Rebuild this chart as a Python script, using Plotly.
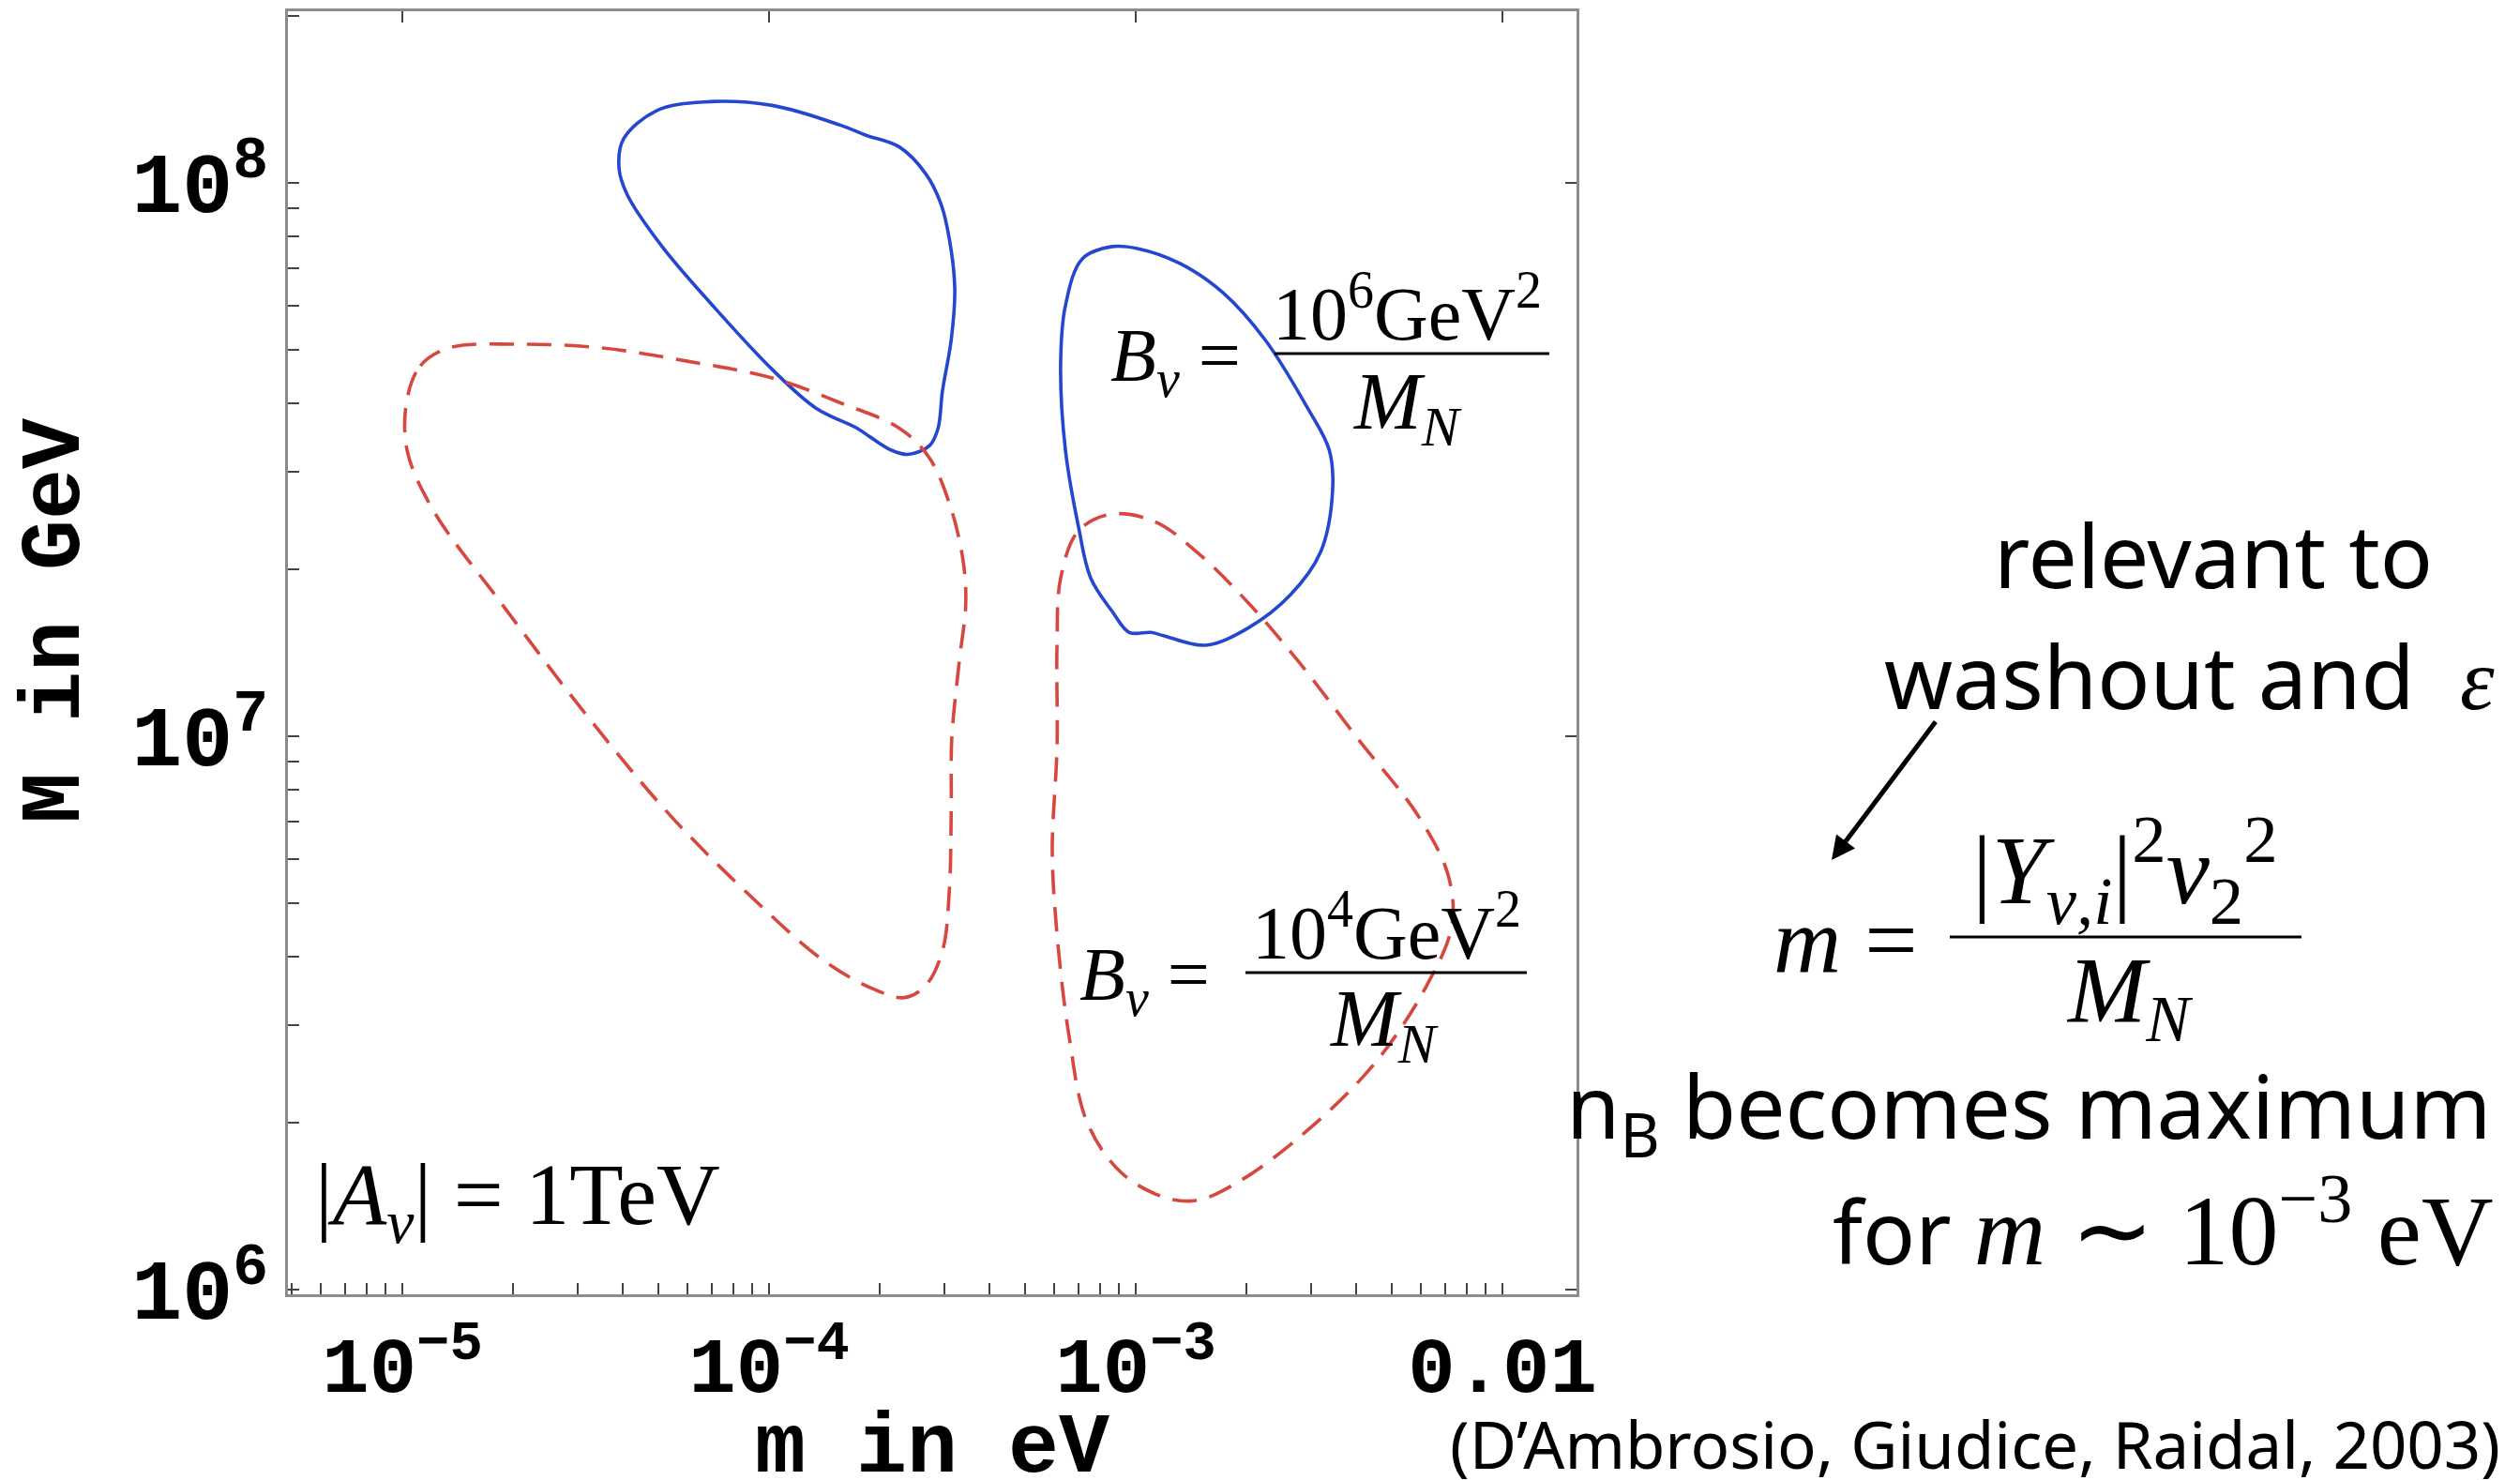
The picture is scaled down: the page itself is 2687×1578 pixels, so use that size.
import math
import plotly.graph_objects as go

# ---------------- data (m in eV, M in GeV) ----------------
blue1_m = [6.66e-5, 1.02e-4, 1.57e-4, 1.83e-4, 2.27e-4, 2.67e-4, 2.94e-4, 3.10e-4, 3.21e-4,
           3.14e-4, 2.97e-4, 2.89e-4, 2.74e-4, 2.39e-4, 2.15e-4, 1.89e-4, 1.74e-4, 1.34e-4,
           1.02e-4, 7.02e-5, 5.11e-5, 4.11e-5, 3.90e-5, 4.01e-5, 4.93e-5, 6.66e-5]
blue1_M = [1.40e8, 1.38e8, 1.27e8, 1.22e8, 1.16e8, 1.04e8, 9.18e7, 7.94e7, 6.43e7,
           5.21e7, 4.20e7, 3.60e7, 3.35e7, 3.23e7, 3.29e7, 3.47e7, 3.60e7, 3.92e7,
           4.60e7, 6.00e7, 7.67e7, 9.50e7, 1.06e8, 1.20e8, 1.35e8, 1.40e8]

red1_m = [1.03e-5, 1.12e-5, 1.34e-5, 2.06e-5, 3.51e-5, 5.99e-5, 1.02e-4, 1.57e-4, 2.27e-4,
          2.74e-4, 3.14e-4, 3.38e-4, 3.44e-4, 3.30e-4, 3.15e-4, 3.14e-4, 3.10e-4, 2.97e-4,
          2.67e-4, 2.34e-4, 1.93e-4, 1.41e-4, 9.16e-5, 5.39e-5, 3.15e-5, 1.86e-5, 1.21e-5,
          1.03e-5, 1.03e-5]
red1_M = [4.06e7, 4.67e7, 5.03e7, 5.11e7, 5.03e7, 4.76e7, 4.44e7, 4.00e7, 3.60e7,
          3.18e7, 2.57e7, 2.08e7, 1.74e7, 1.36e7, 9.88e6, 7.46e6, 5.23e6, 4.09e6,
          3.54e6, 3.37e6, 3.49e6, 3.93e6, 5.05e6, 7.18e6, 1.10e7, 1.74e7, 2.57e7,
          3.29e7, 4.06e7]

blue2_m = [8.63e-4, 1.01e-3, 1.32e-3, 1.73e-3, 2.25e-3, 2.94e-3, 3.37e-3, 3.44e-3, 3.19e-3,
           2.64e-3, 2.03e-3, 1.55e-3, 1.19e-3, 1.10e-3, 9.60e-4, 8.63e-4, 7.54e-4, 6.98e-4,
           6.43e-4, 6.24e-4, 6.43e-4, 7.15e-4, 8.63e-4]
blue2_M = [7.67e7, 7.61e7, 7.15e7, 6.33e7, 5.21e7, 3.92e7, 3.29e7, 2.76e7, 2.15e7,
           1.80e7, 1.57e7, 1.46e7, 1.52e7, 1.54e7, 1.54e7, 1.68e7, 1.93e7, 2.39e7,
           3.29e7, 4.69e7, 6.00e7, 7.29e7, 7.67e7]

red2_m = [8.63e-4, 1.13e-3, 1.47e-3, 2.03e-3, 2.79e-3, 4.04e-3, 5.89e-3, 7.11e-3, 7.28e-3,
          6.21e-3, 4.52e-3, 2.94e-3, 1.92e-3, 1.47e-3, 1.19e-3, 9.10e-4, 7.36e-4, 6.58e-4,
          6.10e-4, 5.92e-4, 6.10e-4, 6.10e-4, 6.24e-4, 6.98e-4, 8.63e-4]
red2_M = [2.52e7, 2.44e7, 2.15e7, 1.74e7, 1.36e7, 9.88e6, 7.18e6, 5.61e6, 4.55e6,
          3.54e6, 2.58e6, 1.94e6, 1.57e6, 1.45e6, 1.47e6, 1.63e6, 2.01e6, 2.87e6,
          4.39e6, 6.24e6, 9.54e6, 1.46e7, 1.93e7, 2.35e7, 2.52e7]

x_major = [1e-5, 1e-4, 1e-3, 1e-2]
x_major_labels = ["10<sup>−5</sup>", "10<sup>−4</sup>", "10<sup>−3</sup>", "0.01"]
y_major = [1e6, 1e7, 1e8]
y_major_labels = ["10<sup>6</sup>", "10<sup>7</sup>", "10<sup>8</sup>"]

x_range_log = [-5.312, -1.798]
y_range_log = [5.9915, 8.31]

# ---------------- layout helpers ----------------
W, H = 2687, 1578
X0, X1, Y0, Y1 = 307, 1681, 12, 1380


def px(x):
    return (x - X0) / (X1 - X0)


def py(y):
    return (Y1 - y) / (Y1 - Y0)


def minor_ticks(lo, hi):
    vals = []
    for e in range(int(math.floor(lo)) - 1, int(math.ceil(hi)) + 1):
        for k in range(1, 10):
            v = k * 10.0 ** e
            if lo <= math.log10(v) <= hi:
                vals.append(v)
    return vals


xt = minor_ticks(*x_range_log)
yt = minor_ticks(*y_range_log)


def lab(vals, majors, labels):
    out = []
    for v in vals:
        t = ""
        for mj, lb in zip(majors, labels):
            if abs(v - mj) / mj < 1e-6:
                t = lb
        out.append(t)
    return out


BLUE = "#2447cf"
RED = "#d8473e"
SERIF = "Liberation Serif"
SANS = "Noto Sans"
MONO = "Liberation Mono"
FRAME = "#8c8c8c"
NB = "\u00a0"

fig = go.Figure()
for xm, yM, col, dash in [(blue1_m, blue1_M, BLUE, "solid"), (red1_m, red1_M, RED, "26px,14px"),
                          (blue2_m, blue2_M, BLUE, "solid"), (red2_m, red2_M, RED, "26px,14px")]:
    fig.add_trace(go.Scatter(x=xm, y=yM, mode="lines",
                             line=dict(color=col, width=3.6, dash=dash, shape="spline", smoothing=1.0),
                             hoverinfo="skip", showlegend=False))
# empty trace to realise the top/right frame axes
fig.add_trace(go.Scatter(x=[], y=[], xaxis="x2", yaxis="y2", showlegend=False))

axis_common = dict(type="log", showgrid=False, zeroline=False, ticks="inside", ticklen=12,
                   tickwidth=2, tickcolor="#444", showline=True, linecolor=FRAME, linewidth=3)

fig.update_layout(
    width=W, height=H, autosize=False,
    margin=dict(l=X0, r=W - X1, t=Y0, b=H - Y1, pad=0),
    paper_bgcolor="white", plot_bgcolor="white",
    xaxis=dict(**axis_common, range=x_range_log, tickmode="array", tickvals=xt,
               ticktext=lab(xt, x_major, x_major_labels),
               tickfont=dict(family=MONO, size=84, color="black", weight="bold")),
    yaxis=dict(**axis_common, range=y_range_log, tickmode="array", tickvals=yt,
               ticktext=lab(yt, y_major, y_major_labels),
               tickfont=dict(family=MONO, size=90, color="black", weight="bold")),
    xaxis2=dict(**axis_common, range=x_range_log, overlaying="x", side="top", anchor="y",
                tickmode="array", tickvals=x_major, showticklabels=False),
    yaxis2=dict(**axis_common, range=y_range_log, overlaying="y", side="right", anchor="x",
                tickmode="array", tickvals=y_major, showticklabels=False),
)

anns = []
shapes = []


def text(t, x, y, size, family, xanchor="center", yanchor="middle", color="black"):
    anns.append(dict(text=t, x=px(x), y=py(y), xref="paper", yref="paper", showarrow=False,
                     xanchor=xanchor, yanchor=yanchor,
                     font=dict(family=family, size=size, color=color)))


def bar(xa, xb, y):
    shapes.append(dict(type="line", xref="paper", yref="paper", x0=px(xa), x1=px(xb),
                       y0=py(y), y1=py(y), line=dict(color="black", width=3)))


MS = 80
# axis titles
text("<b>m in eV</b>", 994, 1545, 90, MONO)
anns.append(dict(text="<b>M in GeV</b>", x=px(60), y=py(662), xref="paper", yref="paper",
                 showarrow=False, textangle=-90, xanchor="center", yanchor="middle",
                 font=dict(family=MONO, size=90, color="black")))

# formula B = 10^6 GeV^2 / M_N
text(f"<i>B</i><sub><i>ν</i></sub>{NB}={NB}", 1345, 385, MS, SERIF, xanchor="right")
text("10<sup>6</sup>GeV<sup>2</sup>", 1500, 328, MS, SERIF)
bar(1359, 1652, 377)
text(f"<i>M</i><sub><i>N</i></sub>", 1500, 434, MS + 6, SERIF)

# formula B = 10^4 GeV^2 / M_N
text(f"<i>B</i><sub><i>ν</i></sub>{NB}={NB}", 1312, 1045, MS, SERIF, xanchor="right")
text("10<sup>4</sup>GeV<sup>2</sup>", 1478, 988, MS, SERIF)
bar(1328, 1628, 1037)
text("<i>M</i><sub><i>N</i></sub>", 1475, 1092, MS + 6, SERIF)

# |A| = 1TeV
text(f"|<i>A</i><sub><i>ν</i></sub>|{NB}={NB}1TeV", 334, 1280, 94, SERIF, xanchor="left")

# right-hand commentary
SS = 93
text("relevant to", 2360, 591, SS, SANS)
text("washout and  <span style='font-family:Liberation Serif'><i>ε</i></span>", 2662, 720, SS, SANS,
     xanchor="right")
anns.append(dict(text="", x=px(1953), y=py(917), xref="paper", yref="paper", showarrow=True,
                 ax=112, ay=-149, arrowhead=2, arrowsize=1.0, arrowwidth=5, arrowcolor="black"))
MF = 100
text(f"<i>m</i>{NB}={NB}", 2072, 1003, MF, SERIF, xanchor="right")
text(f"|<i>Y</i><sub><i>ν,i</i></sub>|<sup>2</sup><i>v</i><sub>2</sub><sup>2</sup>", 2266, 928, MF + 4, SERIF)
bar(2079, 2454, 999)
text("<i>M</i><sub><i>N</i></sub>", 2270, 1062, MF, SERIF)
text("n<sub>B</sub> becomes maximum", 2658, 1184, SS, SANS, xanchor="right")
text("for <span style='font-family:Liberation Serif;font-size:106px'><i>m</i> ∼ 10<sup>−3</sup> eV</span>",
     2660, 1306, SS, SANS, xanchor="right")
text("(D’Ambrosio, Giudice, Raidal, 2003)", 2668, 1539, 69, SANS, xanchor="right")

fig.update_layout(annotations=anns, shapes=shapes)
fig.write_html("out.html")
